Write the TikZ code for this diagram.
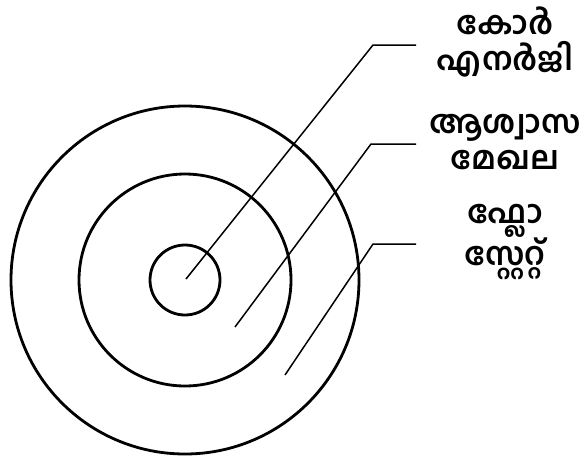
\documentclass[tikz,border=0pt]{standalone}
\usepackage{fontspec}
\newfontfamily\mal[Script=Malayalam]{Hind Kochi}
\begin{document}
\begin{tikzpicture}[x=1pt,y=-1pt,
  ring/.style={circle,draw,line width=2.8pt,inner sep=0pt},
  leader/.style={line width=1.5pt},
  lbl/.style={align=center,font=\mal\bfseries\fontsize{32}{36}\selectfont,inner sep=0pt}]
\useasboundingbox (0,0) rectangle (584,456);
\coordinate (c) at (185,280);
\node[ring,minimum size=70] (inner) at (c) {};
\node[ring,minimum size=212] (middle) at (c) {};
\node[ring,minimum size=348] (outer) at (c) {};
\node[lbl] (l1) at (505,42) {കോർ\\എനർജി};
\node[lbl] (l2) at (505,142) {ആശ്വാസ\\മേഖല};
\node[lbl] (l3) at (505,242) {ഫ്ലോ\\സ്റ്റേറ്റ്};
\coordinate (s1) at (186,279);
\coordinate (s2) at (235,327);
\coordinate (s3) at (285,375);
\coordinate (e1) at (373,45);
\coordinate (e2) at (371,144);
\coordinate (e3) at (373,244);
\coordinate (f1) at (416,45);
\coordinate (f2) at (416,144);
\coordinate (f3) at (416,244);
\draw[leader] (s1) -- (e1) -- (f1);
\draw[leader] (s2) -- (e2) -- (f2);
\draw[leader] (s3) -- (e3) -- (f3);
\end{tikzpicture}
\end{document}
